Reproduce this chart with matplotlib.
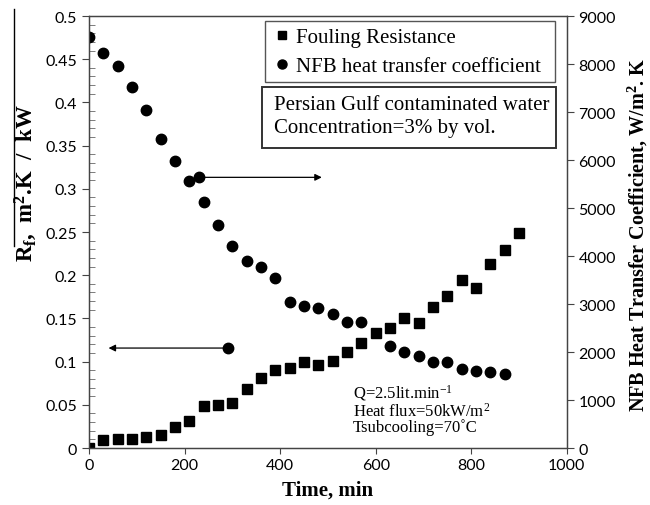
import matplotlib
matplotlib.use("Agg")
import matplotlib.pyplot as plt
from matplotlib.lines import Line2D
from matplotlib.patches import Rectangle
from matplotlib.ticker import MultipleLocator

# fouling resistance (left axis) and heat transfer coefficient (right axis) vs time
time_rf = [0, 30, 60, 90, 120, 150, 180, 210, 240, 270, 300, 330, 360, 390, 420,
           450, 480, 510, 540, 570, 600, 630, 660, 690, 720, 750, 780, 810, 840, 870, 900]
rf = [0.0, 0.0096, 0.0104, 0.0104, 0.013, 0.015, 0.0247, 0.0316, 0.049, 0.050, 0.052,
      0.068, 0.0806, 0.090, 0.0926, 0.099, 0.096, 0.1007, 0.111, 0.121, 0.133, 0.139,
      0.150, 0.145, 0.163, 0.1755, 0.194, 0.185, 0.2126, 0.229, 0.249]

time_htc = [0, 30, 60, 90, 120, 150, 180, 210, 240, 270, 300, 330, 360, 390, 420,
            450, 480, 510, 540, 570, 630, 660, 690, 720, 750, 780, 810, 840, 870]
htc = [8555, 8229, 7951, 7521, 7035, 6437, 5985, 5569, 5118, 4652, 4210, 3889, 3778,
       3542, 3035, 2965, 2910, 2790, 2632, 2632, 2132, 1993, 1923, 1798, 1784, 1646,
       1611, 1576, 1542]

conditions = ["Q=2.5lit.min$^{-1}$", "Heat flux=50kW/m$^{2}$", "Tsubcooling=70\u02daC"]

serif = "Liberation Serif"
sans = "Lato"
plt.rcParams["mathtext.fontset"] = "custom"
plt.rcParams["mathtext.rm"] = "Liberation Serif"
plt.rcParams["mathtext.it"] = "Liberation Serif:italic"
plt.rcParams["mathtext.bf"] = "Liberation Serif:bold"
plt.rcParams["mathtext.default"] = "regular"

fig = plt.figure(figsize=(6.5, 5.06), dpi=100)
ax = fig.add_axes([0.137, 0.1126, 0.735, 0.8538])
ax2 = ax.twinx()

ax.plot(time_rf, rf, ls="none", marker="s", ms=7, color="black")
ax2.plot(time_htc, htc, ls="none", marker="o", ms=7.5, color="black")

ax.set_xlim(0, 1000)
ax.set_ylim(0, 0.5)
ax2.set_ylim(0, 9000)
ax.xaxis.set_major_locator(MultipleLocator(200))
ax.yaxis.set_major_locator(MultipleLocator(0.05))
ax.yaxis.set_minor_locator(MultipleLocator(0.01))
ax2.yaxis.set_major_locator(MultipleLocator(1000))

ax.set_yticks(ax.get_yticks())
ax.set_yticklabels(["0" if v == 0 else ("%g" % round(v, 2)) for v in ax.get_yticks()])
ax.set_ylim(0, 0.5)

for a in (ax, ax2):
    for s in a.spines.values():
        s.set_color("#444444")
        s.set_linewidth(0.9)
ax.tick_params(axis="x", direction="out", length=4, color="#444444", labelsize=11.5)
ax.tick_params(axis="y", which="major", direction="out", length=5, color="#444444", labelsize=11.5)
ax.tick_params(axis="y", which="minor", direction="in", length=4, color="#666666")
ax2.tick_params(axis="y", direction="out", length=5, color="#444444", labelsize=11.5)
for lab in ax.get_xticklabels() + ax.get_yticklabels() + ax2.get_yticklabels():
    lab.set_fontfamily(sans)

ax.set_xlabel("Time, min", fontfamily=serif, fontweight="bold", fontsize=15, labelpad=5)

# axis titles placed by hand
fig.text(0.04, 0.637, r"R$_\mathbf{f}$,  m$^\mathbf{2}$.K  /  kW", rotation=90,
         ha="center", va="center", fontfamily=serif, fontweight="bold", fontsize=16.5)
fig.add_artist(Line2D([0.022, 0.022], [0.512, 0.98], transform=fig.transFigure,
                      color="black", lw=1))
fig.text(0.982, 0.536, r"NFB Heat Transfer Coefficient, W/m$^\mathbf{2}$. K", rotation=90,
         ha="center", va="center", fontfamily=serif, fontweight="bold", fontsize=14.5)

# legend
handles = [Line2D([], [], ls="none", marker="s", ms=6, color="black"),
           Line2D([], [], ls="none", marker="o", ms=6.5, color="black")]
leg = ax2.legend(handles, ["Fouling Resistance", "NFB heat transfer coefficient"],
                 loc="upper left", bbox_to_anchor=(0.368, 0.845, 0.607, 0.143),
                 mode="expand", fancybox=False,
                 edgecolor="#555555", framealpha=1, handletextpad=0.2, handlelength=1.0,
                 borderpad=0.3, labelspacing=0.45, borderaxespad=0,
                 prop={"family": serif, "size": 15})
leg.get_frame().set_linewidth(1)

# info box under the legend
ax2.add_patch(Rectangle((0.362, 0.694), 0.615, 0.142, transform=ax2.transAxes,
                        fc="white", ec="#333333", lw=1.4, zorder=5))
ax2.text(0.388, 0.796, "Persian Gulf contaminated water", transform=ax2.transAxes,
         ha="left", va="center", fontfamily=serif, fontsize=15, zorder=6)
ax2.text(0.388, 0.741, "Concentration=3% by vol.", transform=ax2.transAxes,
         ha="left", va="center", fontfamily=serif, fontsize=15, zorder=6)

# arrows pointing each series to its axis
ax2.annotate("", xy=(493, 5639), xytext=(231, 5639),
             arrowprops=dict(arrowstyle="-|>", color="black", lw=0.9, mutation_scale=10))
ax2.plot([231], [5639], ls="none", marker="o", ms=7.5, color="black")
ax.annotate("", xy=(35, 0.1157), xytext=(290, 0.1157),
            arrowprops=dict(arrowstyle="-|>", color="black", lw=0.9, mutation_scale=10))
ax.plot([290], [0.1157], ls="none", marker="o", ms=7.5, color="black")

# operating conditions
for yv, line in zip([0.0648, 0.0428, 0.0243], conditions):
    ax.text(552, yv, line, ha="left", va="center", fontfamily=serif, fontsize=12)

fig.savefig("out.png", dpi=100)
